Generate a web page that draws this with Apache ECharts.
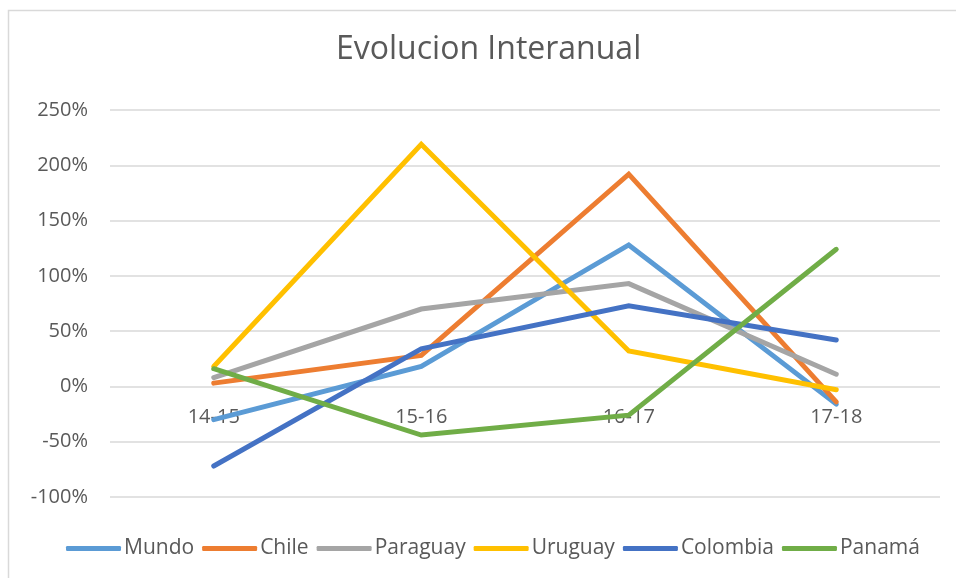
<!DOCTYPE html>
<html>
<head>
<meta charset="utf-8">
<script src="https://cdn.jsdelivr.net/npm/echarts@6/dist/echarts.min.js"></script>
<style>html,body{margin:0;padding:0;background:#fff;}#c{width:956px;height:578px;}</style>
</head>
<body>
<div id="c"></div>
<script>
const categories = ['14-15', '15-16', '16-17', '17-18'];
const mundo = [-30, 18, 128, -16];
const chile = [3, 28, 192, -14];
const paraguay = [8, 70, 93, 11];
const uruguay = [18, 219, 32, -3];
const colombia = [-72, 34, 73, 42];
const panama = [16, -44, -26, 124];
const seriesNames = ['Mundo', 'Chile', 'Paraguay', 'Uruguay', 'Colombia', 'Panamá'];
const seriesColors = ['#5B9BD5', '#ED7D31', '#A5A5A5', '#FFC000', '#4472C4', '#70AD47'];
const seriesData = [mundo, chile, paraguay, uruguay, colombia, panama];
const yTicks = { min: -100, max: 250, interval: 50 };

const FONT = "'Open Sans', 'Noto Sans', sans-serif";
const GRID = { left: 110, right: 16, top: 110, bottom: 81 };
const plotH = 578 - GRID.top - GRID.bottom;
const zeroFromBottom = plotH * (0 - yTicks.min) / (yTicks.max - yTicks.min);

const chart = echarts.init(document.getElementById('c'), null, { renderer: 'canvas' });
chart.setOption({
  backgroundColor: '#fff',
  animation: false,
  title: {
    text: 'Evolucion Interanual',
    left: 336,
    top: 34,
    padding: 0,
    textStyle: { fontFamily: FONT, fontSize: 32, fontWeight: 'normal', color: '#595959' }
  },
  graphic: [{
    type: 'polyline',
    shape: { points: [[8.5, 600], [8.5, 10.5], [1000, 10.5]] },
    style: { stroke: '#D9D9D9', lineWidth: 1.5, fill: null },
    silent: true
  }],
  legend: {
    top: 538,
    left: 66,
    padding: 0,
    itemGap: 8,
    itemWidth: 55,
    itemHeight: 5,
    icon: 'roundRect',
    textStyle: { fontFamily: FONT, fontSize: 21, color: '#595959', padding: [0, 0, 0, -2] },
    data: seriesNames
  },
  grid: { left: GRID.left, right: GRID.right, top: GRID.top, bottom: GRID.bottom, containLabel: false },
  xAxis: {
    type: 'category',
    data: categories,
    boundaryGap: true,
    axisLine: { show: false, onZero: false },
    axisTick: { show: false },
    axisLabel: { fontFamily: FONT, fontSize: 20, color: '#595959', margin: -(zeroFromBottom - 21) }
  },
  yAxis: {
    type: 'value',
    min: yTicks.min,
    max: yTicks.max,
    interval: yTicks.interval,
    axisLine: { show: false },
    axisTick: { show: false },
    splitLine: { lineStyle: { color: '#D9D9D9', width: 1.5 } },
    axisLabel: { formatter: '{value}%', fontFamily: FONT, fontSize: 20, color: '#595959', margin: 22 }
  },
  series: seriesNames.map((n, i) => ({
    name: n,
    type: 'line',
    data: seriesData[i],
    symbol: 'none',
    color: seriesColors[i],
    lineStyle: { width: 5, color: seriesColors[i], cap: 'round', join: 'miter' },
    itemStyle: { color: seriesColors[i] }
  }))
});
</script>
</body>
</html>
